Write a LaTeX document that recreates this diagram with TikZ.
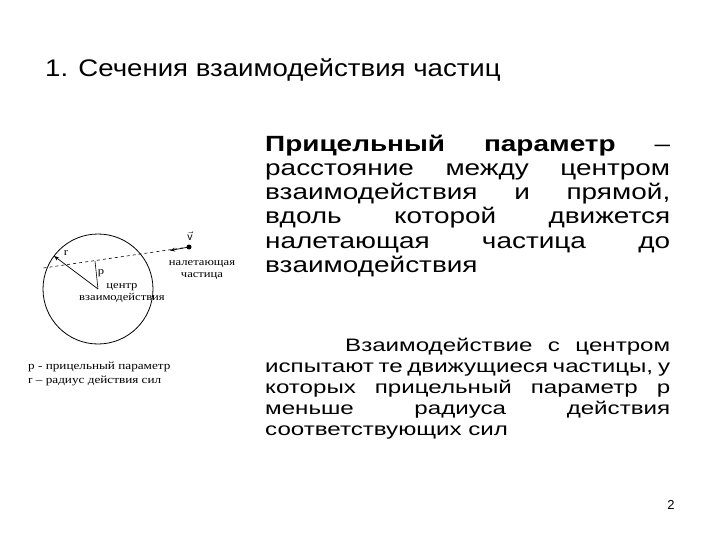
\documentclass[tikz,border=0pt]{standalone}
\usepackage{fontspec}
\setmainfont{Liberation Sans}
\newfontfamily\wideA[FakeStretch=1.15]{Liberation Sans}
\newfontfamily\wideB[FakeStretch=1.27]{Liberation Sans}
\newfontfamily\wideC[FakeStretch=1.34]{Liberation Sans}
\newfontfamily\serifx[FakeStretch=1.2]{Liberation Serif}
\usetikzlibrary{arrows.meta}
\begin{document}
\begin{tikzpicture}[x=1pt,y=-1pt,
  big/.style={anchor=base west,inner sep=0pt,font=\wideB\fontsize{22}{24}\selectfont},
  small/.style={anchor=base west,inner sep=0pt,font=\wideC\fontsize{18}{21}\selectfont},
  lab/.style={inner sep=0pt,font=\serifx\fontsize{10.5}{12.5}\selectfont}]
\useasboundingbox (0,0) rectangle (720,540);
\node[anchor=west,inner sep=0pt,font=\wideA\fontsize{24}{28}\selectfont] (title) at (45,70) {1. Сечения взаимодействия частиц};
\node[big] (b1) at (265,152) {\makebox[405pt][s]{\textbf{Прицельный параметр} –}};
\node[big] (b2) at (265,176) {\makebox[405pt][s]{расстояние между центром}};
\node[big] (b3) at (265,200) {\makebox[405pt][s]{взаимодействия и прямой,}};
\node[big] (b4) at (265,224) {\makebox[405pt][s]{вдоль которой движется}};
\node[big] (b5) at (265,248) {\makebox[405pt][s]{налетающая частица до}};
\node[big] (b6) at (265,272) {взаимодействия};
\node[small] (s1) at (265,351) {\makebox[405pt][s]{\hspace*{80pt}Взаимодействие с центром}};
\node[small] (s2) at (265,372) {\makebox[405pt][s]{испытают те движущиеся частицы, у}};
\node[small] (s3) at (265,393) {\makebox[405pt][s]{которых прицельный параметр р}};
\node[small] (s4) at (265,414) {\makebox[405pt][s]{меньше радиуса действия}};
\node[small] (s5) at (265,435) {соответствующих сил};
\node[inner sep=0pt,font=\fontsize{13}{14}\selectfont] (num) at (671,505) {2};
% diagram
\coordinate (c) at (98,289);
\draw[line width=0.8pt] (c) circle (55);
\coordinate (dot) at (189,247);
\coordinate (ent) at (43.5,268);
\coordinate (foot) at (95,261);
\coordinate (rp) at (54,256);
\fill (dot) circle (2.5);
\draw[dashed,line width=0.6pt] (dot) -- (ent);
\draw[-{Stealth[length=5pt]},line width=0.7pt] (dot) -- (170,250.5);
\draw[line width=0.6pt] (c) -- (foot);
\draw[-{Stealth[length=5pt]},line width=0.7pt] (c) -- (rp);
\node[lab] (r) at (66,253) {r};
\node[lab] (p) at (101,273) {p};
\node[lab] (v) at (190,236) {$\vec{\mathrm v}$};
\node[lab,align=center] (cent) at (122,293) {центр\\взаимодействия};
\node[lab,align=center] (part) at (202,270) {налетающая\\частица};
\node[lab,anchor=west,align=left,font=\serifx\fontsize{11}{14}\selectfont] (leg) at (28,374) {p - прицельный параметр\\r – радиус действия сил};
\end{tikzpicture}
\end{document}
